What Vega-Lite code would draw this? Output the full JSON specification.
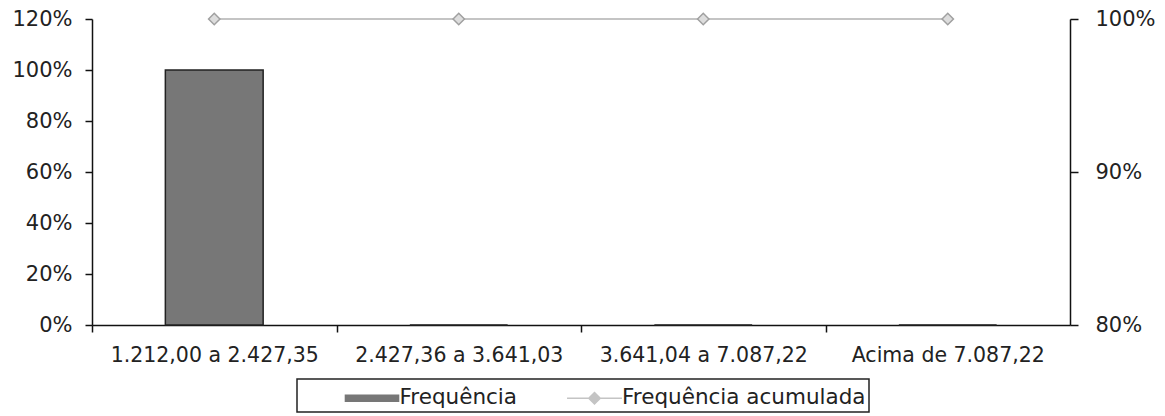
{
  "$schema": "https://vega.github.io/schema/vega-lite/v6.json",
  "width": 978,
  "height": 306,
  "autosize": {"type": "none"},
  "padding": {"left": 92, "top": 19, "right": 95, "bottom": 91},
  "background": "white",
  "config": {
    "view": {"stroke": null},
    "font": "DejaVu Sans",
    "axis": {
      "labelFont": "DejaVu Sans",
      "labelFontSize": 21,
      "labelColor": "#222222",
      "labelLimit": 0,
      "domainColor": "#111111",
      "tickColor": "#111111",
      "domainWidth": 1.5,
      "tickWidth": 1.5,
      "grid": false
    },
    "legend": {
      "orient": "none",
      "legendX": 205,
      "legendY": 360,
      "direction": "horizontal",
      "strokeColor": "#222222",
      "strokeWidth": 1.5,
      "padding": 3,
      "symbolSize": 900,
      "labelFont": "DejaVu Sans",
      "labelFontSize": 21.5,
      "labelColor": "#222222",
      "labelLimit": 0,
      "labelOffset": 11.5,
      "columnPadding": 46.5,
      "titleOrient": "left",
      "titleFontSize": 1,
      "titlePadding": 56
    }
  },
  "data": {
    "values": [
      {"categoria": "1.212,00 a 2.427,35", "frequencia": 1, "acumulada": 1},
      {"categoria": "2.427,36 a 3.641,03", "frequencia": 0, "acumulada": 1},
      {"categoria": "3.641,04 a 7.087,22", "frequencia": 0, "acumulada": 1},
      {"categoria": "Acima de 7.087,22", "frequencia": 0, "acumulada": 1}
    ]
  },
  "encoding": {
    "x": {
      "field": "categoria",
      "type": "nominal",
      "sort": null,
      "scale": {"paddingInner": 0.6, "paddingOuter": 0.3},
      "axis": {"title": null, "labelAngle": 0, "labelFontSize": 20.5, "ticks": true, "tickOffset": -122.25, "labelOffset": 122.25, "tickSize": 7, "labelPadding": 13, "labelLimit": 0}
    }
  },
  "layer": [
    {
      "mark": {"type": "bar", "stroke": "#222222", "strokeWidth": 1.5},
      "encoding": {
        "y": {
          "field": "frequencia",
          "type": "quantitative",
          "scale": {"domain": [0, 1.2], "nice": false},
          "axis": {"title": null, "orient": "left", "format": ".0%", "values": [0, 0.2, 0.4, 0.6, 0.8, 1, 1.2], "tickSize": 7, "labelPadding": 13}
        },
        "color": {
          "datum": "Frequência",
          "type": "nominal",
          "scale": {"domain": ["Frequência", "Frequência acumulada"], "range": ["#777777", "#c4c4c4"]},
          "legend": {
            "title": " ",
            "encode": {
              "symbols": {
                "update": {
                  "shape": {"signal": "datum.value === 'Frequência' ? 'M-1.77,-0.2H1.77V0.2H-1.77Z' : 'M-1.83,0H1.83M0,-0.38L0.38,0L0,0.38L-0.38,0Z'"},
                  "fill": {"signal": "datum.value === 'Frequência' ? '#8a8a8a' : '#dddddd'"},
                  "stroke": {"signal": "datum.value === 'Frequência' ? '#333333' : '#a8a8a8'"},
                  "strokeWidth": {"value": 1.5}
                }
              }
            }
          }
        }
      }
    },
    {
      "mark": {"type": "line", "strokeWidth": 2},
      "encoding": {
        "y": {
          "field": "acumulada",
          "type": "quantitative",
          "scale": {"domain": [0.8, 1.0], "nice": false},
          "axis": {"title": null, "orient": "right", "format": ".0%", "values": [0.8, 0.9, 1.0], "tickSize": 8, "labelPadding": 17}
        },
        "color": {
          "datum": "Frequência acumulada",
          "type": "nominal",
          "legend": {
            "title": " ",
            "encode": {
              "symbols": {
                "update": {
                  "shape": {"signal": "datum.value === 'Frequência' ? 'M-1.77,-0.2H1.77V0.2H-1.77Z' : 'M-1.83,0H1.83M0,-0.38L0.38,0L0,0.38L-0.38,0Z'"},
                  "fill": {"signal": "datum.value === 'Frequência' ? '#8a8a8a' : '#dddddd'"},
                  "stroke": {"signal": "datum.value === 'Frequência' ? '#333333' : '#a8a8a8'"},
                  "strokeWidth": {"value": 1.5}
                }
              }
            }
          }
        }
      }
    },
    {
      "mark": {"type": "point", "shape": "diamond", "size": 130, "filled": true, "fill": "#dddddd", "stroke": "#a0a0a0", "strokeWidth": 1.5, "opacity": 1},
      "encoding": {
        "y": {"field": "acumulada", "type": "quantitative", "scale": {"domain": [0.8, 1.0], "nice": false}, "axis": null}
      }
    }
  ],
  "resolve": {"scale": {"y": "independent"}}
}
